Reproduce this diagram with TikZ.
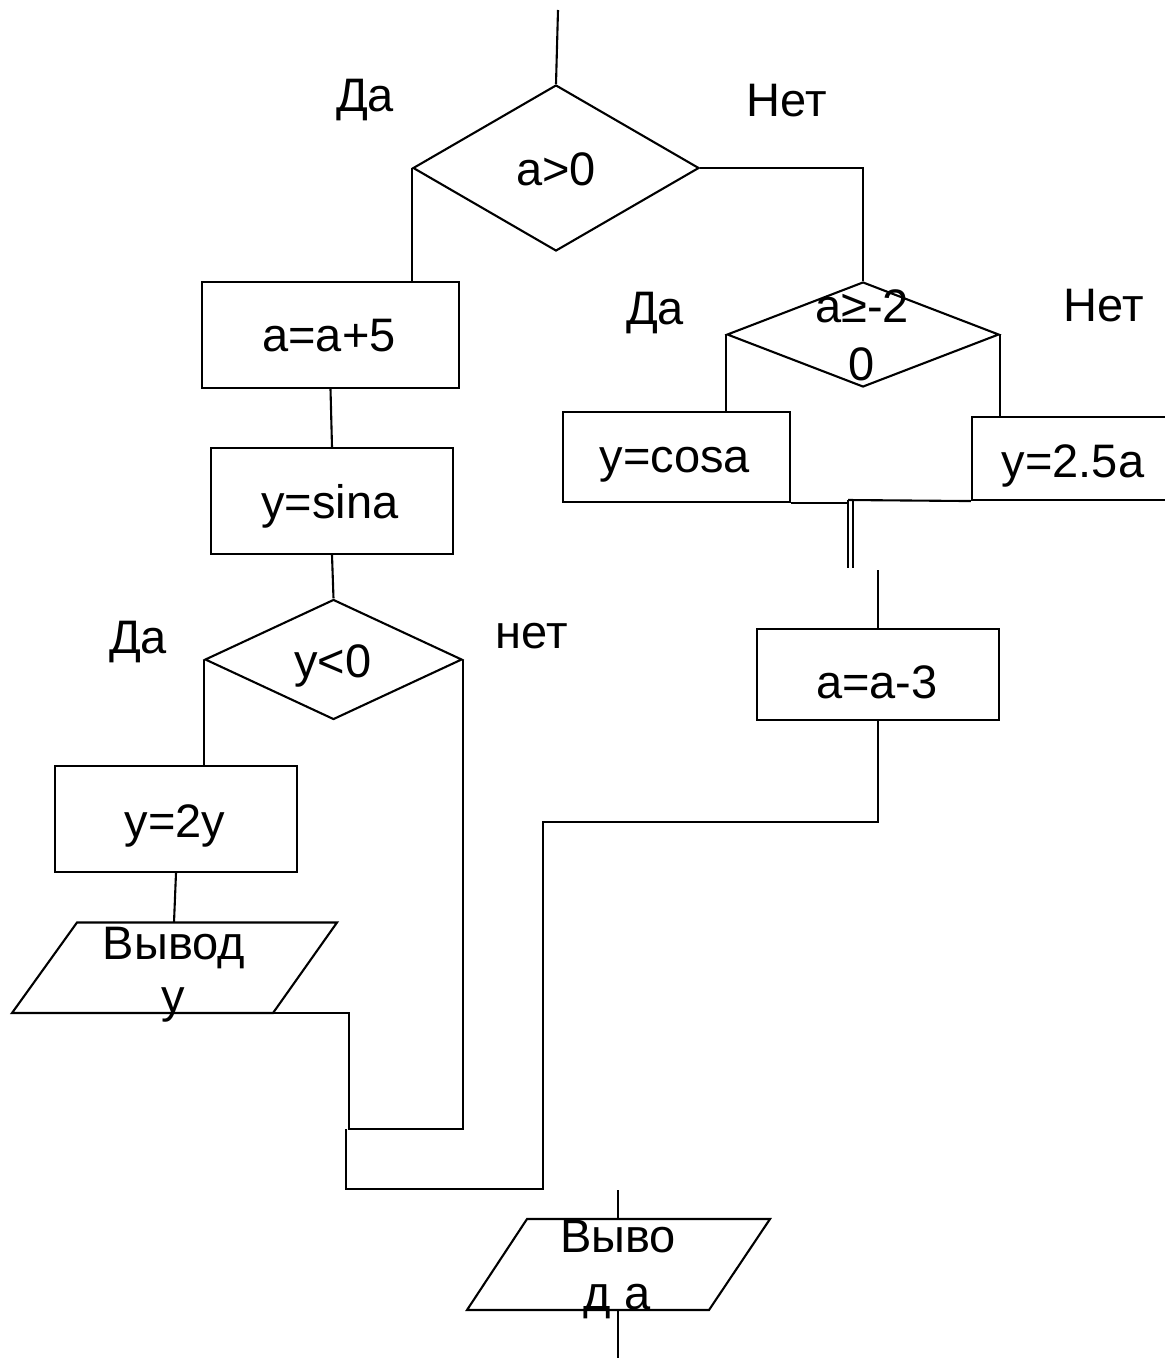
\documentclass[tikz,border=0pt]{standalone}
\usepackage{fontspec}
\setmainfont{Liberation Sans}
\usetikzlibrary{shapes.geometric}
\begin{document}
\begin{tikzpicture}[x=0.5pt,y=-0.5pt,
  every path/.style={line width=1.05pt},
  box/.style 2 args={draw, rectangle, inner sep=0pt, minimum width=#1*0.5pt, minimum height=#2*0.5pt},
  dia/.style 2 args={draw, diamond, inner sep=0pt, minimum width=#1*0.5pt, minimum height=#2*0.5pt},
  txt/.style={inner sep=0pt, anchor=base, font=\fontsize{23.5pt}{28pt}\selectfont}]
\useasboundingbox (0,0) rectangle (1165,1359);

% shapes
\node[dia={286}{166}] (D1) at (556,168) {};
\node[dia={272}{105}] (D2) at (863,334.5) {};
\node[dia={257}{120}] (D3) at (333.5,659.5) {};
\node[box={257}{106}] (A1) at (330.5,335) {};
\node[box={242}{106}] (S1) at (332,501) {};
\node[box={242}{106}] (Y2) at (176,819) {};
\node[box={227}{90}] (C1) at (676.5,457) {};
\node[box={196}{83}] (R1) at (1070,458.5) {};
\node[box={242}{91}] (A3) at (878,674.5) {};

% parallelograms
\coordinate (P1tl) at (77,922.5);  \coordinate (P1tr) at (337,922.5);
\coordinate (P1br) at (273,1013);  \coordinate (P1bl) at (12,1013);
\draw (P1tl) -- (P1tr) -- (P1br) -- (P1bl) -- cycle;
\coordinate (P2tl) at (527,1219);  \coordinate (P2tr) at (770,1219);
\coordinate (P2br) at (709,1310);  \coordinate (P2bl) at (467,1310);
\draw (P2tl) -- (P2tr) -- (P2br) -- (P2bl) -- cycle;

% free ends and junctions
\coordinate (start) at (558,10);
\coordinate (P1in) at (174,922.5);
\coordinate (J1) at (349,1129);
\coordinate (J2) at (346,1129);
\coordinate (J3) at (543,1189);
\coordinate (M1) at (848,500);
\coordinate (M2) at (853,500);
\coordinate (M1b) at (848,568);
\coordinate (M2b) at (853,568);
\coordinate (S3) at (878,570);
\coordinate (E1) at (618,1190);
\coordinate (P2in) at (618,1219);
\coordinate (P2out) at (618,1310);
\coordinate (E2) at (618,1358);

% connectors
\draw (start) -- (D1.north);
\draw (D1.west) -- (D1.west |- A1.north);
\draw (D1.east) -| (D2.north);
\draw (A1.south) -- (S1.north);
\draw (S1.south) -- (D3.north);
\draw (D3.west) -- (D3.west |- Y2.north);
\draw (Y2.south) -- (P1in);
\draw (P1br) -| (J1) -| (D3.east);
\draw (A3.south) |- (J3 |- 0,822) -- (J3) -| (J2);
\draw (D2.west) -- (D2.west |- C1.north);
\draw (D2.east) -- (D2.east |- R1.north);
\draw (C1.south east) -- (M1 |- C1.south east);
\draw (M1) -- (R1.south west);
\draw (M1) -- (M1b);
\draw (M2) -- (M2b);
\draw (S3) -- (A3.north);
\draw (E1) -- (P2in);
\draw (P2out) -- (E2);

% texts
\node[txt] (tD1) at (556,185) {a>0};
\node[txt] (tD2a) at (862,322) {a≥-2};
\node[txt] (tD2b) at (862,380) {0};
\node[txt] (tD3) at (333,677) {y<0};
\node[txt] (tA1) at (329,351) {a=a+5};
\node[txt] (tS1) at (330,518) {y=sina};
\node[txt] (tY2) at (175,837) {y=2y};
\node[txt] (tC1) at (675,472) {y=cosa};
\node[txt] (tR1) at (1073,477) {y=2.5a};
\node[txt] (tA3) at (877,698) {a=a-3};
\node[txt] (tP1a) at (174,959) {Вывод};
\node[txt] (tP1b) at (173,1012) {y};
\node[txt] (tP2a) at (618,1252) {Выво};
\node[txt] (tP2b) at (617,1309) {д а};
\node[txt] (l1) at (365,112) {Да};
\node[txt] (l2) at (787,117) {Нет};
\node[txt] (l3) at (655,324) {Да};
\node[txt] (l4) at (1104,321) {Нет};
\node[txt] (l5) at (138,653) {Да};
\node[txt] (l6) at (532,648) {нет};
\end{tikzpicture}
\end{document}
